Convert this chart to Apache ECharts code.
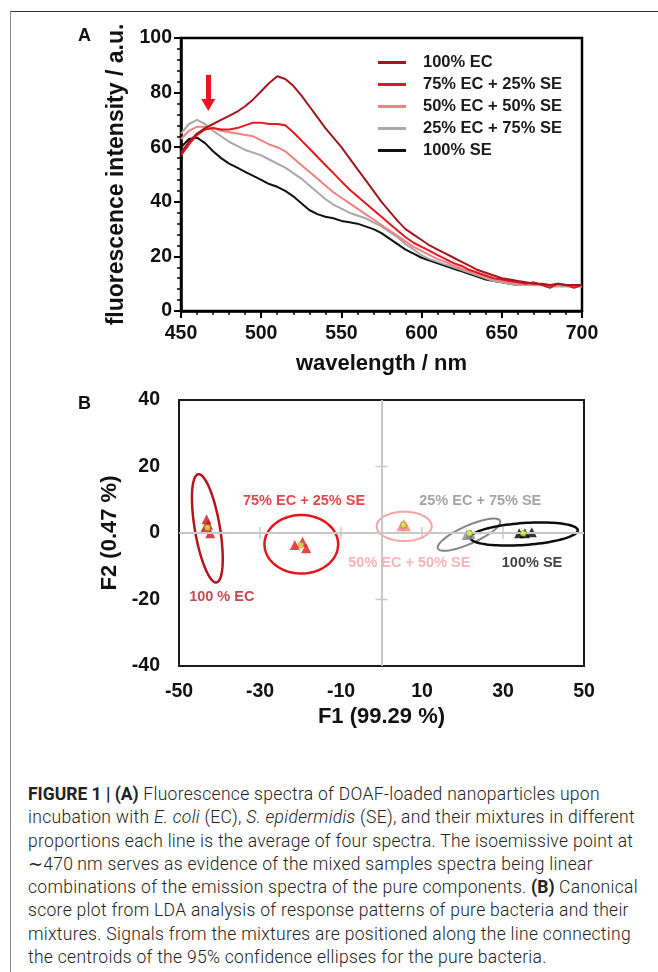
<!DOCTYPE html>
<html lang="en">
<head>
<meta charset="UTF-8">
<title>Figure 1 - DOAF nanoparticle spectra and LDA score plot</title>
<style>
    html, body { margin: 0; padding: 0; background: #fff; overflow: hidden; }
    #frame {
        position: absolute; left: 10px; top: 11px; width: 660px; height: 970px;
        border-top: 1.5px solid #333; border-left: 1.5px solid #888;
    }
    #chart { position: absolute; left: 0; top: 0; width: 658px; height: 760px; }
    #caption {
        position: absolute; left: 28px; top: 783px;
        font-family: Roboto, 'Liberation Sans', sans-serif; font-weight: 300;
        font-size: 17.5px; letter-spacing: 0.3px; line-height: 23.3px; color: #222; white-space: nowrap;
    }
    #caption b { font-weight: 700; letter-spacing: 0; }
</style>
<script src="https://cdn.jsdelivr.net/npm/echarts@6/dist/echarts.min.js"></script>
</head>
<body>
<div id="frame"></div>
<div id="chart"></div>
<div id="caption">
    <b>FIGURE 1 | (A)</b> Fluorescence spectra of DOAF-loaded nanoparticles upon<br>
    incubation with <i>E. coli</i> (EC), <i>S. epidermidis</i> (SE), and their mixtures in different<br>
    proportions each line is the average of four spectra. The isoemissive point at<br>
    &sim;470&thinsp;nm serves as evidence of the mixed samples spectra being linear<br>
    combinations of the emission spectra of the pure components. <b>(B)</b> Canonical<br>
    score plot from LDA analysis of response patterns of pure bacteria and their<br>
    mixtures. Signals from the mixtures are positioned along the line connecting<br>
    the centroids of the 95% confidence ellipses for the pure bacteria.
</div>

<script>
    // ---- panel A: emission spectra ----
    const wavelength = [450, 455, 460, 465, 470, 475, 480, 485, 490, 495,
        500, 505, 510, 515, 520, 525, 530, 535, 540, 545,
        550, 555, 560, 565, 570, 575, 580, 585, 590, 595,
        600, 605, 610, 615, 620, 625, 630, 635, 640, 645,
        650, 655, 660, 665, 670, 675, 680, 685, 690, 695, 700];
    const ec100 = [58, 62, 65, 67, 68.5, 70, 71.5, 73, 75, 77.5,
        80.5, 83.5, 86, 85, 82.5, 79, 75, 71, 67, 63.5,
        60, 56, 52, 48, 44, 40, 36.5, 33, 30, 28,
        26, 24, 22.5, 21, 19.5, 18, 16.5, 15, 14, 13,
        12, 11.5, 11, 10.5, 10, 10, 9.5, 10, 9.5, 9.5, 9.5];
    const ec75 = [57, 61, 64.5, 66.5, 67, 66.5, 66.5, 67, 68, 69,
        69, 68.5, 68.5, 68, 65.5, 62.5, 59.5, 56.5, 53.5, 50.5,
        47.5, 44.5, 42, 39.5, 37, 34.5, 32, 29.5, 27, 25,
        23.5, 22, 20.5, 19, 17.5, 16.5, 15, 14, 13, 12,
        11.5, 11, 10.5, 10, 10.5, 9.5, 8.5, 10, 9.5, 8.5, 9.5];
    const ec50 = [63, 66, 67.5, 67.5, 67, 66, 65.5, 65, 64.5, 64,
        62.5, 61, 60, 58.5, 56, 53.5, 51, 48.5, 46, 43.5,
        41.5, 39.5, 37.5, 35.5, 33.5, 31.5, 29.5, 27.5, 25.5, 23.5,
        22, 20.5, 19, 18, 16.5, 15.5, 14.5, 13.5, 12.5, 11.5,
        11, 10.5, 10, 10, 9.5, 9.5, 9.5, 9.5, 9.5, 9.5, 9.5];
    const ec25 = [65, 68.5, 70, 68.5, 66, 64, 62, 60.5, 59, 58,
        57, 55.5, 54, 52.5, 50.5, 48.5, 46, 43.5, 41, 39,
        37.5, 36, 35, 34, 32.5, 31, 29, 27, 24.5, 22.5,
        20.5, 19, 18, 17, 16, 15, 14, 13, 12, 11,
        10.5, 10, 9.5, 9.5, 9.5, 9.5, 9, 9, 9, 9, 9];
    const se100 = [60, 63, 63.5, 61.5, 58.5, 56, 54, 52.5, 51, 49.5,
        48, 46.5, 45.5, 44, 42, 39.5, 37, 35.5, 34.5, 34,
        33, 32.5, 32, 31, 30, 28.5, 26.5, 24.5, 22.5, 21,
        19.5, 18.5, 17.5, 16.5, 15.5, 14.5, 13.5, 12.5, 11.5, 11,
        10.5, 10, 9.5, 9.5, 9.5, 9.5, 9.5, 9.5, 9.5, 9.5, 9.5];
    const spectraNames = ['100% EC', '75% EC + 25% SE', '50% EC + 50% SE', '25% EC + 75% SE', '100% SE'];
    const spectra = [ec100, ec75, ec50, ec25, se100];

    // arrow at the isoemissive point (wavelength, from, to)
    const arrowAt = 467;
    const arrowFrom = 86.5;
    const arrowTo = 75.5;

    // ---- panel B: LDA scores ----
    const groupLabels = ['100 % EC', '75% EC + 25% SE', '50% EC + 50% SE', '25% EC + 75% SE', '100% SE'];
    const scoresF1 = [[-43.2, -43.6, -42.3, -42.8], [-21.4, -19.5, -18.6], [4.9, 6.0, 5.5], [21.0, 22.0], [34.0, 35.4, 37.1]];
    const scoresF2 = [[4.1, 1.4, -0.1, 2.5], [-3.6, -2.6, -4.6], [2.0, 2.0, 2.8], [-0.6, -0.3], [-0.1, -0.1, 0.2]];
    const centroidF1 = [-43.0, -19.9, 5.4, 21.7, 35.0];
    const centroidF2 = [1.6, -3.6, 2.4, -0.1, -0.1];
    // 95% confidence ellipses: centre, semi-axes (axis units), tilt (deg)
    const ellipseF1 = [-43.0, -19.8, 5.6, 21.6, 35.2];
    const ellipseF2 = [1.4, -3.4, 2.0, -0.5, -0.3];
    const ellipseR1 = [3.1, 9.1, 6.8, 8.4, 13.3];
    const ellipseR2 = [16.5, 8.8, 4.4, 2.7, 3.3];
    const ellipseTilt = [-9.6, 0, 0, -24, -4];
    const labelF1 = [-47.5, -34.2, -8.2, 9.3, 29.7];
    const labelF2 = [-19.2, 9.6, -9.0, 9.6, -9.0];
    const crossTicksF1 = [-30, -10, 10, 30];
    const crossTicksF2 = [20, -20];

    // styles
    const lineColors = ['#a3161d', '#e8161e', '#f28282', '#a8a8a8', '#111111'];
    const ellipseColors = ['#b3161e', '#e8141c', '#f5a3a3', '#858585', '#0d0d0d'];
    const ellipseWidths = [2.5, 2.5, 2, 2, 2.5];
    const markerColors = ['#c8141c', '#e0161e', '#f08a8a', '#8a8a8a', '#000000'];
    const labelColors = ['#b81c24', '#e8141c', '#f5a3a3', '#8c8c8c', '#111111'];
    const font = "'Liberation Sans', Arial, sans-serif";

    function renderEllipse(params, api) {
        const c = api.coord([api.value(0), api.value(1)]);
        const s = api.size([api.value(2), api.value(3)]);
        const t = api.value(4) * Math.PI / 180;
        const pts = [];
        for (let k = 0; k < 96; k++) {
            const a = k / 96 * Math.PI * 2;
            const x = s[0] * Math.cos(a);
            const y = s[1] * Math.sin(a);
            pts.push([c[0] + x * Math.cos(t) - y * Math.sin(t), c[1] + x * Math.sin(t) + y * Math.cos(t)]);
        }
        return {
            type: 'polygon',
            shape: { points: pts },
            style: { fill: 'none', stroke: ellipseColors[params.dataIndex], lineWidth: ellipseWidths[params.dataIndex] }
        };
    }

    const boldLabel = { fontSize: 19.5, fontWeight: 'bold', color: '#111', fontFamily: font };
    const axisTitle = { fontSize: 22, fontWeight: 'bold', color: '#111', fontFamily: font };

    const series = spectra.map((vals, i) => ({
        name: spectraNames[i],
        type: 'line',
        xAxisIndex: 0,
        yAxisIndex: 0,
        symbol: 'none',
        showSymbol: false,
        data: wavelength.map((w, j) => [w, vals[j]]),
        lineStyle: { color: lineColors[i], width: 2 },
        itemStyle: { color: lineColors[i] },
        z: 5 - i
    }));

    series.push({
        name: 'arrow',
        type: 'line',
        xAxisIndex: 0,
        yAxisIndex: 0,
        data: [],
        markLine: {
            silent: true,
            symbol: ['none', 'triangle'],
            symbolSize: [14, 12],
            label: { show: false },
            lineStyle: { color: '#e8161e', width: 5, type: 'solid' },
            data: [[{ coord: [arrowAt, arrowFrom] }, { coord: [arrowAt, arrowTo] }]]
        }
    });

    // crosshair through the origin of panel B with its small ticks
    series.push({
        type: 'scatter',
        xAxisIndex: 1,
        yAxisIndex: 1,
        symbol: 'rect',
        symbolSize: [1.5, 12],
        itemStyle: { color: '#bdbdbd' },
        data: crossTicksF1.map(v => [v, 0]),
        z: 1,
        markLine: {
            silent: true,
            symbol: 'none',
            label: { show: false },
            lineStyle: { color: '#c8c8c8', width: 2, type: 'solid' },
            data: [{ xAxis: 0 }, { yAxis: 0 }]
        }
    });
    series.push({
        type: 'scatter',
        xAxisIndex: 1,
        yAxisIndex: 1,
        symbol: 'rect',
        symbolSize: [12, 1.5],
        itemStyle: { color: '#bdbdbd' },
        data: crossTicksF2.map(v => [0, v]),
        z: 1
    });

    series.push({
        type: 'custom',
        xAxisIndex: 1,
        yAxisIndex: 1,
        renderItem: renderEllipse,
        encode: { x: 0, y: 1 },
        data: ellipseF1.map((x, i) => [x, ellipseF2[i], ellipseR1[i], ellipseR2[i], ellipseTilt[i]]),
        z: 3
    });

    const triData = [];
    scoresF1.forEach((grp, g) => grp.forEach((x, k) => {
        triData.push({ value: [x, scoresF2[g][k]], itemStyle: { color: markerColors[g] } });
    }));
    series.push({
        type: 'scatter',
        xAxisIndex: 1,
        yAxisIndex: 1,
        symbol: 'triangle',
        symbolSize: 10,
        data: triData,
        z: 4
    });
    series.push({
        type: 'scatter',
        xAxisIndex: 1,
        yAxisIndex: 1,
        symbol: 'circle',
        symbolSize: 6,
        itemStyle: { color: '#e2ec3a', borderColor: '#6d7a1c', borderWidth: 0.6 },
        data: centroidF1.map((x, i) => [x, centroidF2[i]]),
        z: 5
    });
    series.push({
        type: 'scatter',
        xAxisIndex: 1,
        yAxisIndex: 1,
        symbolSize: 0,
        silent: true,
        data: labelF1.map((x, i) => ({
            value: [x, labelF2[i]],
            label: { color: labelColors[i], formatter: groupLabels[i] }
        })),
        label: {
            show: true, position: 'right', distance: 0,
            fontSize: 14.5, fontWeight: 'bold', fontFamily: font
        },
        z: 6
    });

    const option = {
        animation: false,
        textStyle: { fontFamily: font },
        grid: [
            { left: 181, top: 38, width: 401, height: 273, show: true, borderColor: '#000', borderWidth: 2.5 },
            { left: 179, top: 400, width: 405, height: 266, show: true, borderColor: '#1a1a1a', borderWidth: 2 }
        ],
        xAxis: [
            {
                gridIndex: 0, type: 'value', min: 450, max: 700, interval: 50,
                name: 'wavelength / nm', nameLocation: 'middle', nameGap: 42, nameTextStyle: axisTitle,
                axisLine: { onZero: false, lineStyle: { color: '#000', width: 2.5 } },
                axisTick: { length: 7, lineStyle: { color: '#000', width: 2 } },
                minorTick: { show: true, splitNumber: 5, length: 4, lineStyle: { color: '#000', width: 1.5 } },
                splitLine: { show: false },
                axisLabel: Object.assign({ margin: 13 }, boldLabel)
            },
            {
                gridIndex: 1, type: 'value', min: -50, max: 50, interval: 20,
                name: 'F1 (99.29 %)', nameLocation: 'middle', nameGap: 40, nameTextStyle: axisTitle,
                axisLine: { show: false, onZero: false },
                axisTick: { show: false },
                splitLine: { show: false },
                axisLabel: Object.assign({ margin: 16 }, boldLabel)
            }
        ],
        yAxis: [
            {
                gridIndex: 0, type: 'value', min: 0, max: 100, interval: 20,
                name: 'fluorescence intensity / a.u.', nameLocation: 'middle', nameGap: 47,
                nameTextStyle: Object.assign({}, axisTitle, { fontSize: 23 }),
                axisLine: { onZero: false, lineStyle: { color: '#000', width: 2.5 } },
                axisTick: { length: 7, lineStyle: { color: '#000', width: 2 } },
                minorTick: { show: true, splitNumber: 5, length: 4, lineStyle: { color: '#000', width: 1.5 } },
                splitLine: { show: false },
                axisLabel: Object.assign({ margin: 9 }, boldLabel)
            },
            {
                gridIndex: 1, type: 'value', min: -40, max: 40, interval: 20,
                name: 'F2 (0.47 %)', nameLocation: 'middle', nameGap: 53, nameTextStyle: axisTitle,
                axisLine: { show: false, onZero: false },
                axisTick: { show: false },
                splitLine: { show: false },
                axisLabel: Object.assign({ margin: 19 }, boldLabel)
            }
        ],
        legend: {
            data: spectraNames,
            orient: 'vertical',
            left: 373,
            top: 49,
            icon: 'rect',
            itemWidth: 28,
            itemHeight: 3,
            itemGap: 5,
            textStyle: {
                fontSize: 16.5, fontWeight: 'bold', color: '#1a1a1a', fontFamily: font,
                lineHeight: 16, padding: [0, 0, 0, 12]
            }
        },
        graphic: [
            { type: 'text', left: 78, top: 27, style: { text: 'A', fontSize: 18, fontWeight: 'bold', fill: '#111', fontFamily: font } },
            { type: 'text', left: 78, top: 395, style: { text: 'B', fontSize: 18, fontWeight: 'bold', fill: '#111', fontFamily: font } }
        ],
        series: series
    };

    const chart = echarts.init(document.getElementById('chart'));
    chart.setOption(option);
</script>
</body>
</html>
